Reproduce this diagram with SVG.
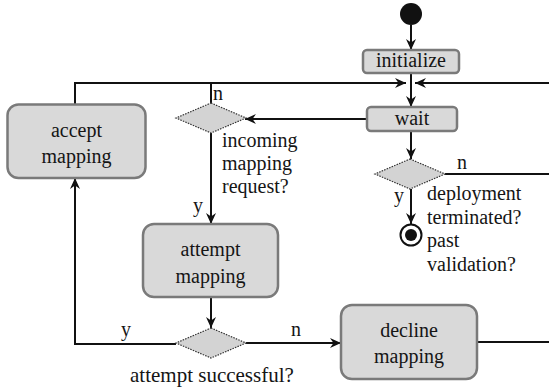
<svg xmlns="http://www.w3.org/2000/svg" width="549" height="388" viewBox="0 0 549 388">
  <style>
    .act { fill: #d9d9d9; stroke: #7a7a7a; stroke-width: 2.5; }
    .dec { fill: #d3d3d3; stroke: #333; stroke-width: 1.2; stroke-dasharray: 1.5 1.2; }
    .wire { fill: none; stroke: #111; stroke-width: 2; }
    text { font-family: 'Liberation Serif', 'DejaVu Serif', serif; font-size: 20px; fill: #151515; }
    .c { text-anchor: middle; }
  </style>
  <defs>
    <marker id="arrow" viewBox="0 0 11 10" markerUnits="userSpaceOnUse" markerWidth="11" markerHeight="10" refX="11" refY="5" orient="auto">
      <path d="M0,0 L11,5 L0,10 L3.5,5 z" fill="#111"/>
    </marker>
  </defs>

  <!-- connectors and their branch labels -->
  <g id="connectors">
    <path class="wire" d="M411,25 V50" marker-end="url(#arrow)"/>
    <path class="wire" d="M411,73 V107" marker-end="url(#arrow)"/>
    <path class="wire" d="M75,104 V83 H406" marker-end="url(#arrow)"/>
    <path class="wire" d="M211,103 V83"/>
    <path class="wire" d="M549,83 H415" marker-end="url(#arrow)"/>
    <path class="wire" d="M367,119 H245" marker-end="url(#arrow)"/>
    <path class="wire" d="M211,133 V224" marker-end="url(#arrow)"/>
    <path class="wire" d="M211,297 V328" marker-end="url(#arrow)"/>
    <path class="wire" d="M246,343 H341" marker-end="url(#arrow)"/>
    <path class="wire" d="M176,344 H75 V178" marker-end="url(#arrow)"/>
    <path class="wire" d="M411,131 V159" marker-end="url(#arrow)"/>
    <path class="wire" d="M411,189 V224" marker-end="url(#arrow)"/>
    <path class="wire" d="M445,174 H549"/>
    <path class="wire" d="M477,342 H549"/>
    <text x="213" y="100">n</text>
    <text x="193" y="212">y</text>
    <text x="457" y="169">n</text>
    <text x="394" y="202">y</text>
    <text x="121" y="336">y</text>
    <text x="291" y="336">n</text>
  </g>

  <g id="start">
    <circle cx="411" cy="14" r="11" fill="#111"/>
  </g>

  <g id="initialize">
    <rect class="act" x="363" y="50" width="96" height="23" rx="4"/>
    <text class="c" x="411" y="67">initialize</text>
  </g>

  <g id="wait">
    <rect class="act" x="367" y="107" width="90" height="24" rx="4"/>
    <text class="c" x="412" y="125">wait</text>
  </g>

  <g id="incoming">
    <polygon class="dec" points="211,103 246,118 211,133 176,118"/>
    <text x="222" y="147">incoming</text>
    <text x="222" y="170">mapping</text>
    <text x="222" y="193">request?</text>
  </g>

  <g id="accept">
    <rect class="act" x="7.5" y="104.5" width="138" height="73.5" rx="11"/>
    <text class="c" x="76.5" y="137">accept</text>
    <text class="c" x="76.5" y="163">mapping</text>
  </g>

  <g id="attempt">
    <rect class="act" x="143" y="224" width="135" height="73" rx="11"/>
    <text class="c" x="210.5" y="256">attempt</text>
    <text class="c" x="210.5" y="283">mapping</text>
  </g>

  <g id="successful">
    <polygon class="dec" points="211,328 246,343 211,358 176,343"/>
    <text x="130" y="382" style="font-size:21px">attempt successful?</text>
  </g>

  <g id="decline">
    <rect class="act" x="341" y="305" width="136" height="74" rx="11"/>
    <text class="c" x="409" y="337">decline</text>
    <text class="c" x="409" y="363">mapping</text>
  </g>

  <g id="deployment">
    <polygon class="dec" points="410,159 445,174 410,189 375,174"/>
    <text x="427" y="200">deployment</text>
    <text x="427" y="223.5">terminated?</text>
    <text x="427" y="247">past</text>
    <text x="427" y="270.5">validation?</text>
  </g>

  <g id="end">
    <circle cx="411" cy="235" r="10.5" fill="#fff" stroke="#111" stroke-width="2"/>
    <circle cx="411" cy="235" r="6" fill="#111"/>
  </g>
</svg>
